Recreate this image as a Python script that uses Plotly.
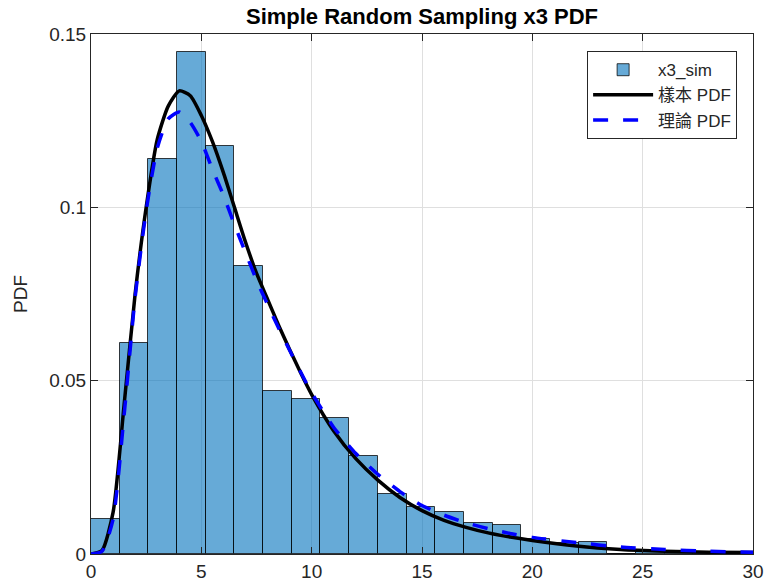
import plotly.graph_objects as go

# ---------------- data ----------------
bin_width = 1.3
bin_left = [0.0, 1.3, 2.6, 3.9, 5.2, 6.5, 7.8, 9.1, 10.4, 11.7, 13.0, 14.3,
            15.6, 16.9, 18.2, 19.5, 20.8, 22.1, 23.4, 24.7, 26.0, 27.3, 28.6, 29.9]
hist_pdf = [0.0101, 0.0609, 0.1140, 0.1447, 0.1177, 0.0831, 0.0470, 0.0446,
            0.0392, 0.0283, 0.0174, 0.0137, 0.0121, 0.0090, 0.0084, 0.0044,
            0.0031, 0.0036, 0.0, 0.0006, 0.0006, 0.0004, 0.0004, 0.0003]

sample_x = [0, 0.5, 1.0, 1.5, 2.0, 2.5, 3.0, 3.5, 4.0, 4.5, 5.0, 5.5, 6.0,
            6.5, 7.0, 7.5, 8.0, 8.5, 9.0, 9.5, 10, 11, 12, 13, 14, 15, 16,
            17, 18, 19, 20, 22, 24, 26, 28, 30]
sample_pdf = [0, 0.001, 0.012, 0.043, 0.075, 0.1, 0.1195, 0.1292, 0.1336,
              0.1322, 0.1265, 0.119, 0.110, 0.100, 0.090, 0.081, 0.0735,
              0.066, 0.059, 0.0523, 0.046, 0.0355, 0.0275, 0.0213, 0.0163,
              0.0125, 0.0097, 0.0077, 0.0061, 0.0049, 0.0039, 0.0023, 0.0013,
              0.0008, 0.0005, 0.0004]

theory_x = [0, 0.5, 1.0, 1.5, 2.0, 2.5, 3.0, 3.5, 4.0, 4.5, 5.0, 5.5, 6.0,
            6.5, 7.0, 7.5, 8.0, 8.5, 9.0, 9.5, 10, 11, 12, 13, 14, 15, 16,
            17, 18, 19, 20, 22, 24, 26, 28, 30]
theory_pdf = [0, 0.0008, 0.010, 0.040, 0.074, 0.099, 0.117, 0.1255, 0.1275,
              0.1245, 0.119, 0.111, 0.1035, 0.095, 0.087, 0.079, 0.0720,
              0.0652, 0.0588, 0.0525, 0.0465, 0.0365, 0.0290, 0.0230,
              0.0180, 0.0140, 0.0112, 0.0090, 0.0073, 0.0059, 0.0048, 0.0033,
              0.0020, 0.0013, 0.0008, 0.0005]

x_ticks = [0, 5, 10, 15, 20, 25, 30]
y_ticks = [0, 0.05, 0.1, 0.15]
y_ticktext = ["0", "0.05", "0.1", "0.15"]

title_text = "Simple Random Sampling x3 PDF"
names = ["x3_sim", "樣本 PDF", "理論 PDF"]

# ---------------- figure ----------------
FONT = "Liberation Sans, Arial, Helvetica, Noto Sans CJK TC, sans-serif"
AX = "#262626"

bin_center = [b + bin_width / 2 for b in bin_left]

fig = go.Figure()
fig.add_trace(go.Bar(
    x=bin_center, y=hist_pdf, width=[bin_width] * len(bin_left),
    name=names[0],
    marker=dict(color="rgba(0,114,189,0.6)",
                line=dict(color="rgba(0,0,0,0.75)", width=1)),
))
fig.add_trace(go.Scatter(
    x=sample_x, y=sample_pdf, mode="lines", name=names[1],
    line=dict(color="black", width=3.5, shape="spline", smoothing=0.6),
))
fig.add_trace(go.Scatter(
    x=theory_x, y=theory_pdf, mode="lines", name=names[2],
    line=dict(color="#0000FF", width=3.5, dash="15px,15px",
              shape="spline", smoothing=0.6),
))

axis_common = dict(
    showline=True, linecolor=AX, linewidth=1, mirror="ticks",
    ticks="inside", ticklen=7, tickcolor=AX, tickwidth=1,
    showgrid=True, gridcolor="#DFDFDF", gridwidth=1, zeroline=False,
    tickfont=dict(family=FONT, size=19, color=AX),
    automargin=False,
)

fig.update_xaxes(range=[0, 30], tickvals=x_ticks, **axis_common)
fig.update_yaxes(range=[0, 0.15], tickvals=y_ticks, ticktext=y_ticktext,
                 title=dict(text="PDF", font=dict(family=FONT, size=19, color=AX),
                            standoff=16),
                 **axis_common)

fig.update_layout(
    width=767, height=587,
    margin=dict(l=91, r=14, t=34, b=33),
    paper_bgcolor="white", plot_bgcolor="white",
    bargap=0,
    showlegend=True,
    title=dict(text="<b>" + title_text + "</b>", x=0.5, xref="paper",
               xanchor="center", y=0.985, yanchor="top",
               font=dict(family=FONT, size=22, color="black")),
    legend=dict(x=0.976, y=0.967, xanchor="right", yanchor="top",
                bgcolor="white", bordercolor=AX, borderwidth=1,
                font=dict(family=FONT, size=17, color=AX),
                itemwidth=60, tracegroupgap=0),
    font=dict(family=FONT, color=AX),
)

fig.write_html("out.html", config={"displayModeBar": False},
               post_script="document.body.style.margin='0';")
